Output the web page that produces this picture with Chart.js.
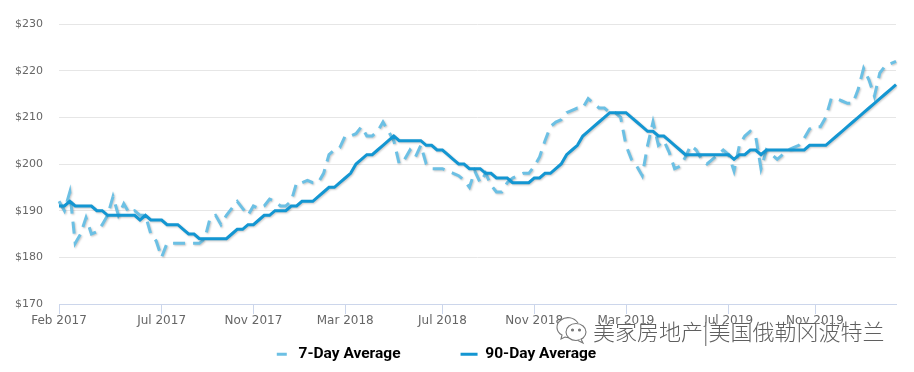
<!DOCTYPE html>
<html><head><meta charset="utf-8">
<style>
html,body{margin:0;padding:0;background:#fff;overflow:hidden}
#wrap{position:relative;width:914px;height:372px}
#mark{position:absolute;left:593px;top:314px;font:300 22px "Noto Sans CJK SC";color:#5f5f5f;white-space:nowrap;letter-spacing:0;text-shadow:0 0 2px #fff,1px 1px 1px #fff}
#icon{position:absolute;left:554px;top:314px}
</style>
<script src="https://cdn.jsdelivr.net/npm/chart.js@4"></script>
</head><body>
<div id="wrap"><canvas id="c" width="914" height="372"></canvas>
<svg id="icon" width="36" height="32" viewBox="0 0 36 32" fill="#fff" stroke="#777" stroke-width="1.1">
<path d="M24 9c-4-6-12-7-17-3C1 10 2 18 8 21l-1 4 4-2c2 .6 4 .8 6 .4"/>
<ellipse cx="22" cy="18" rx="10" ry="8.5"/><path d="M27 25l2 4-5-2.5" />
<circle cx="18.5" cy="16" r="1" fill="#777"/><circle cx="25.5" cy="16" r="1" fill="#777"/>
</svg>
<div id="mark">美家房地产|美国俄勒冈波特兰</div></div>
<script>
const tickIndex=[0,19,36,53,71,88,105,124,140];
const tickNames=["Feb 2017","Jul 2017","Nov 2017","Mar 2018","Jul 2018","Nov 2018","Mar 2019","Jul 2019","Nov 2019"];
const yTicks=[170,180,190,200,210,220,230];
const day7=[192,190,194,183,185,188.5,185,185.5,187,189,193,189,191.5,189.5,190,189,189,185,183.5,180,
183,183,183,183,183,183,183,184,188.5,189,187,189,190.5,192,190.5,189,191,190.5,191,192.5,
192,191,191,192,196,196,196.5,196,196,198,202,203,203.5,206,206,206.5,208,206,206,207,
209,207,205,200,201,203,201.5,204,200,199,199,199,198.5,198,197.5,196.5,195,198.5,196,198,
195.5,194,194,196,197,197.5,198,198,199.5,201.5,205,208,209,209.5,211,211.5,212,212,214,213,
212,212,211,211,210,204,201,199.5,197.5,204,209,204,205,202.5,199,199.5,201.5,204,203,201,
200,201,202,203,202,198.5,204,206,207,206,199,203,202,201,202,203,203.5,204,205.5,207.5,
208,208,210,214,214,213.5,213,213,216,220.5,218,214.5,219.5,221,221.5,222];
const day90=[191,191,192,191,191,191,191,190,190,189,189,189,189,189,189,188,189,188,188,188,
187,187,187,186,185,185,184,184,184,184,184,184,185,186,186,187,187,188,189,189,
190,190,190,191,191,192,192,192,193,194,195,195,196,197,198,200,201,202,202,203,
204,205,206,205,205,205,205,205,204,204,203,203,202,201,200,200,199,199,199,198,
198,197,197,197,196,196,196,196,197,197,198,198,199,200,202,203,204,206,207,208,
209,210,211,211,211,211,210,209,208,207,207,206,206,205,204,203,202,202,202,202,
202,202,202,202,202,201,202,202,203,203,202,203,203,203,203,203,203,203,203,204,
204,204,204,205,206,207,208,209,210,211,212,213,214,215,216,217];
const categories=day90.map((_,i)=>i);
const legendPlace={id:'legendPlace',
 beforeLayout(ch){const l=ch.legend;if(!l.$wrapped){const f=l.fit;l.fit=function(){f.call(this);this.$h=this.height;this.height=27;};l.$wrapped=true;}},
 afterLayout(ch){const l=ch.legend;l.top=ch.height-l.$h;l.bottom=ch.height;l.left-=13;l.right-=13;}};
const shadow={id:'shadow',
 beforeDatasetDraw(ch){const x=ch.ctx;x.save();x.shadowColor='rgba(0,0,0,0.22)';x.shadowOffsetX=1;x.shadowOffsetY=1;x.shadowBlur=2;},
 afterDatasetDraw(ch){ch.ctx.restore();}};
new Chart(document.getElementById('c'),{
 type:'line',
 data:{labels:categories,datasets:[
  {label:'7-Day Average',data:day7,borderColor:'#6cc0e4',backgroundColor:'#6cc0e4',borderWidth:3,borderDash:[12,8],pointRadius:0,tension:0,order:2},
  {label:'90-Day Average',data:day90,borderColor:'#1396d2',backgroundColor:'#1396d2',borderWidth:3,pointRadius:0,tension:0,order:1}
 ]},
 plugins:[legendPlace,shadow],
 options:{responsive:false,animation:false,
  layout:{padding:{top:24,right:18,left:0,bottom:0}},
  plugins:{tooltip:{enabled:false},title:{display:false},
   legend:{position:'bottom',labels:{
    font:{family:'Roboto',size:15.5,weight:'bold'},color:'#333',
    usePointStyle:true,pointStyle:'line',pointStyleWidth:17,boxWidth:17,boxHeight:3,padding:60,
    generateLabels(ch){return ch.data.datasets.map((d,i)=>({text:d.label,datasetIndex:i,strokeStyle:d.borderColor,fillStyle:d.borderColor,lineWidth:3,pointStyle:'line',
      lineDash:i===0?[10,7]:[],lineDashOffset:i===0?14:0}));}
   }}},
  scales:{
   x:{type:'category',
    afterBuildTicks(s){s.ticks=tickIndex.map(v=>({value:v}));},
    afterFit(s){s.height=41;},
    grid:{drawOnChartArea:false,drawTicks:true,tickLength:10,color:'#ccd6eb'},
    border:{color:'#ccd6eb'},
    ticks:{autoSkip:false,maxRotation:0,minRotation:0,padding:0,color:'#666',font:{family:'"DejaVu Sans"',size:12},
     callback(v,i){return tickNames[i];}}},
   y:{min:170,max:230,
    afterBuildTicks(s){s.ticks=yTicks.map(v=>({value:v}));},
    afterFit(s){s.width=59;},
    grid:{color:'#e6e6e6',drawTicks:false},border:{display:false},
    ticks:{padding:16,color:'#666',font:{family:'"DejaVu Sans"',size:11},callback(v){return '$'+v;}}}
  }}
});
</script></body></html>
